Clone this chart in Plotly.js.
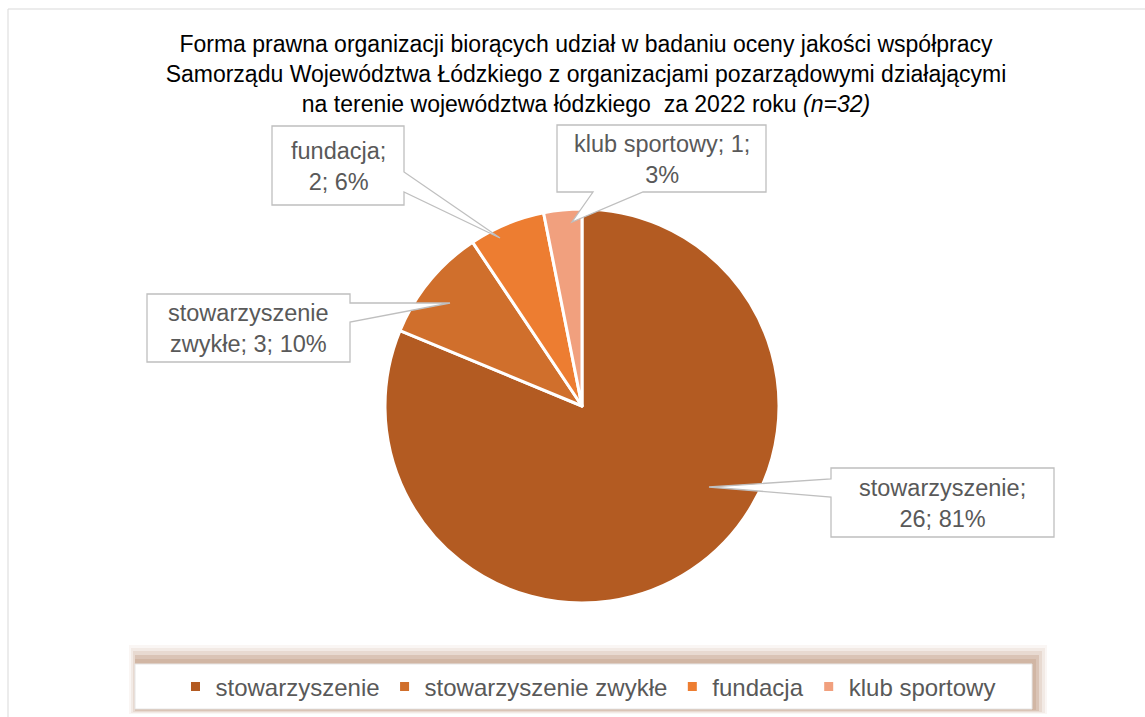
<!DOCTYPE html>
<html>
<head>
<meta charset="utf-8">
<script src="https://cdn.plot.ly/plotly-3.0.1.min.js"></script>
<style>html,body{margin:0;padding:0;background:#fff;}#chart{width:1145px;height:717px;}</style>
</head>
<body>
<div id="chart"></div>
<script>
// ---- data ----
const categories = ['stowarzyszenie', 'stowarzyszenie zwykłe', 'fundacja', 'klub sportowy'];
const counts = [26, 3, 2, 1];
const percentLabels = [81, 10, 6, 3]; // as printed on the chart
const sliceColors = ['#B35B22', '#D06F2C', '#ED7D31', '#F1A07E'];

// ---- layout helpers (pixels -> paper) ----
const W = 1145, H = 717;
const px = x => x / W;
const py = y => 1 - y / H;
const pieCx = 582, pieCy = 406, pieR = 197;

// callout boxes: box [x0,y0,x1,y1], side of pointer, base span, tip, line break after word n
const callouts = [
  {box: [831, 468, 1054, 537], side: 'left', base: [479, 497], tip: [709, 487], brk: 1},
  {box: [147, 294, 350, 362], side: 'right', base: [303, 322], tip: [450, 303], brk: 1},
  {box: [272, 126, 404, 205], side: 'right', base: [172, 192], tip: [500, 238], brk: 1},
  {box: [557, 125, 766, 192], side: 'bottom', base: [593, 643], tip: [572, 222], brk: 3}
];

function calloutPath(c) {
  const [x0, y0, x1, y1] = c.box;
  const [b0, b1] = c.base;
  const [tx, ty] = c.tip;
  let pts = [[x0, y0], [x1, y0]];
  if (c.side === 'right') pts.push([x1, b0], [tx, ty], [x1, b1]);
  pts.push([x1, y1]);
  if (c.side === 'bottom') pts.push([b1, y1], [tx, ty], [b0, y1]);
  pts.push([x0, y1]);
  if (c.side === 'left') pts.push([x0, b1], [tx, ty], [x0, b0]);
  return 'M' + pts.map(p => px(p[0]).toFixed(5) + ',' + py(p[1]).toFixed(5)).join(' L') + ' Z';
}

const shapes = [];
// outer chart border
shapes.push({type: 'rect', xref: 'paper', yref: 'paper', x0: px(8), y0: py(9), x1: 1.02, y1: -0.02,
  line: {color: '#D9D9D9', width: 1}, fillcolor: 'rgba(0,0,0,0)', layer: 'below'});
// legend box shadow layers
const shadowLayers = [
  [129, 645, 1047, 714, 'rgba(205,170,145,0.10)'],
  [131, 648, 1045, 713, 'rgba(200,165,140,0.14)'],
  [133, 651, 1042, 712, 'rgba(195,155,130,0.20)'],
  [135, 655, 1039, 711, 'rgba(190,150,125,0.32)'],
  [135, 659, 1036, 710, 'rgba(195,160,135,0.38)']
];
shadowLayers.forEach(s => shapes.push({type: 'rect', xref: 'paper', yref: 'paper',
  x0: px(s[0]), y0: py(s[1]), x1: px(s[2]), y1: py(s[3]), fillcolor: s[4], line: {width: 0}, layer: 'below'}));
shapes.push({type: 'rect', xref: 'paper', yref: 'paper', x0: px(135), y0: py(664), x1: px(1032), y1: py(709),
  fillcolor: '#FFFFFF', line: {color: '#E6E6E6', width: 1}, layer: 'below'});

// callouts
const annotations = [];
callouts.forEach((c, i) => {
  shapes.push({type: 'path', xref: 'paper', yref: 'paper', path: calloutPath(c),
    fillcolor: '#FFFFFF', line: {color: '#BFBFBF', width: 1.3}, layer: 'above'});
  const words = (categories[i] + '; ' + counts[i] + '; ' + percentLabels[i] + '%').split(' ');
  const text = words.slice(0, c.brk).join(' ') + '<br>' + words.slice(c.brk).join(' ');
  annotations.push({xref: 'paper', yref: 'paper', x: px((c.box[0] + c.box[2]) / 2), y: py((c.box[1] + c.box[3]) / 2 + 1),
    xanchor: 'center', yanchor: 'middle', showarrow: false, text: text, align: 'center',
    font: {family: 'Liberation Sans, Arial, sans-serif', size: 23.5, color: '#595959'}});
});

const trace = {
  type: 'pie',
  labels: categories,
  values: counts,
  sort: false,
  direction: 'clockwise',
  rotation: 0,
  textinfo: 'none',
  hoverinfo: 'label+value+percent',
  marker: {colors: sliceColors, line: {color: '#FFFFFF', width: 3}},
  domain: {x: [px(pieCx - pieR), px(pieCx + pieR)], y: [py(pieCy + pieR), py(pieCy - pieR)]}
};

const layout = {
  width: W, height: H,
  margin: {l: 0, r: 0, t: 0, b: 0},
  paper_bgcolor: '#FFFFFF',
  title: {
    text: 'Forma prawna organizacji biorących udział w badaniu oceny jakości współpracy<br>' +
          'Samorządu Województwa Łódzkiego z organizacjami pozarządowymi działającymi<br>' +
          'na terenie województwa łódzkiego  za 2022 roku <i>(n=32)</i>',
    font: {family: 'Liberation Sans, Arial, sans-serif', size: 23, color: '#000000'},
    x: px(586), xanchor: 'center', xref: 'paper',
    y: py(52), yanchor: 'top', yref: 'paper'
  },
  showlegend: true,
  legend: {
    orientation: 'h', x: px(588), xanchor: 'center', y: py(687), yanchor: 'middle',
    bgcolor: 'rgba(0,0,0,0)', font: {family: 'Liberation Sans, Arial, sans-serif', size: 24, color: '#595959'},
    traceorder: 'normal'
  },
  shapes: shapes,
  annotations: annotations
};

Plotly.newPlot('chart', [trace], layout, {displayModeBar: false, staticPlot: true});
</script>
</body>
</html>
